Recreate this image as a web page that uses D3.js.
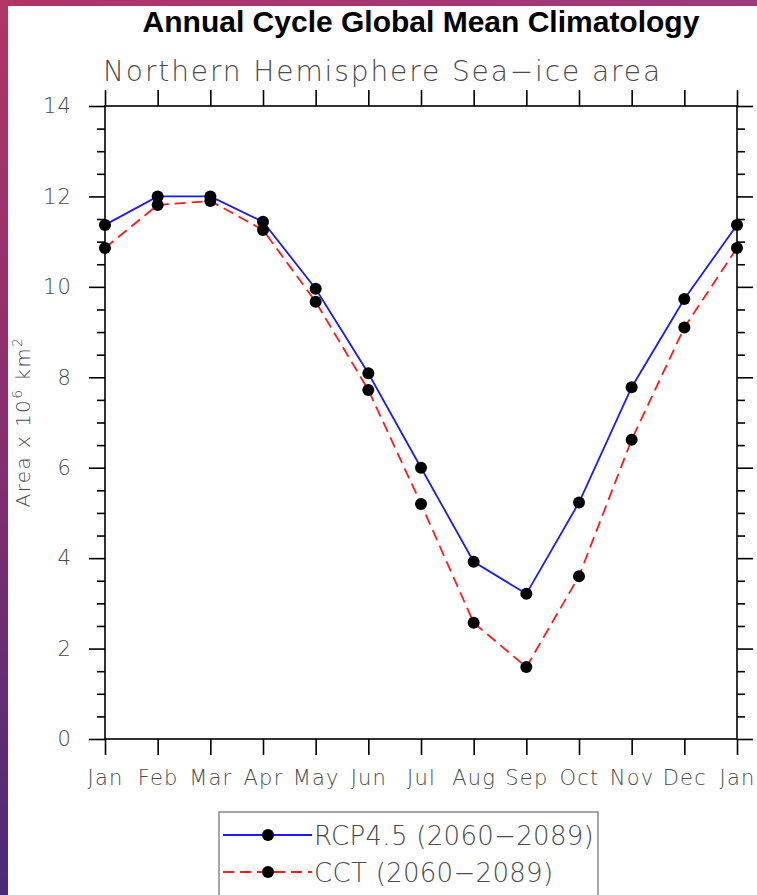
<!DOCTYPE html>
<head>
  <meta charset="utf-8">
  <title>Annual Cycle Global Mean Climatology</title>
  <style>
    body { margin: 0; background: #fff; }
    .lbl { font-family: "DejaVu Sans", sans-serif; font-weight: 200; fill: #4a4a4a; }
  </style>
</head>
<body>
  <script src="https://cdn.jsdelivr.net/npm/d3@7"></script>
  <script>
    // data
    var months = ["Jan", "Feb", "Mar", "Apr", "May", "Jun", "Jul", "Aug", "Sep", "Oct", "Nov", "Dec", "Jan"];
    var rcp45 = [11.37, 12.0, 12.0, 11.44, 9.96, 8.09, 6.0, 3.92, 3.21, 5.23, 7.78, 9.73, 11.37];
    var cct = [10.86, 11.81, 11.9, 11.26, 9.67, 7.72, 5.2, 2.57, 1.59, 3.6, 6.62, 9.1, 10.86];
    var yTicks = [0, 2, 4, 6, 8, 10, 12, 14];
    var yMinor = d3.range(0, 14.01, 0.5).filter(function(v) { return v % 2 != 0; });
    var seriesNames = ["RCP4.5 (2060\u22122089)", "CCT (2060\u22122089)"];

    var w = 757, h = 895;
    var pLeft = 105, pRight = 737, pTop = 106, pBottom = 739;

    var svg = d3.select("body").append("svg").attr("width", w).attr("height", h);

    // slide background strips
    var defs = svg.append("defs");
    var g1 = defs.append("linearGradient").attr("id", "side").attr("x1", 0).attr("y1", 0).attr("x2", 0).attr("y2", 1);
    g1.append("stop").attr("offset", "0%").attr("stop-color", "#b33565");
    g1.append("stop").attr("offset", "45%").attr("stop-color", "#8a2f6e");
    g1.append("stop").attr("offset", "100%").attr("stop-color", "#4b2a78");
    var g2 = defs.append("linearGradient").attr("id", "topstrip").attr("x1", 0).attr("y1", 0).attr("x2", 1).attr("y2", 0);
    g2.append("stop").attr("offset", "0%").attr("stop-color", "#b13466");
    g2.append("stop").attr("offset", "100%").attr("stop-color", "#9b3a7c");
    svg.append("rect").attr("x", 0).attr("y", 0).attr("width", w).attr("height", 6).attr("fill", "url(#topstrip)");
    svg.append("rect").attr("x", 0).attr("y", 0).attr("width", 8).attr("height", h).attr("fill", "url(#side)");

    var x = d3.scaleLinear().domain([0, 12]).range([pLeft, pRight]);
    var y = d3.scaleLinear().domain([0, 14]).range([pBottom, pTop]);

    // major and minor ticks on all four sides, pointing outward
    svg.append("g").attr("transform", "translate(0," + pBottom + ")")
      .call(d3.axisBottom(x).tickValues(d3.range(13)).tickSize(16).tickSizeOuter(0).tickPadding(15)
        .tickFormat(function(d) { return months[d]; }));
    svg.append("g").attr("transform", "translate(0," + pTop + ")")
      .call(d3.axisTop(x).tickValues(d3.range(13)).tickSize(16).tickSizeOuter(0).tickFormat(""));
    svg.append("g").attr("transform", "translate(" + pLeft + ",0)")
      .call(d3.axisLeft(y).tickValues(yTicks).tickSize(16).tickSizeOuter(0).tickPadding(17));
    svg.append("g").attr("transform", "translate(" + pLeft + ",0)")
      .call(d3.axisLeft(y).tickValues(yMinor).tickSize(8).tickSizeOuter(0).tickFormat(""));
    svg.append("g").attr("transform", "translate(" + pRight + ",0)")
      .call(d3.axisRight(y).tickValues(yTicks).tickSize(16).tickSizeOuter(0).tickFormat(""));
    svg.append("g").attr("transform", "translate(" + pRight + ",0)")
      .call(d3.axisRight(y).tickValues(yMinor).tickSize(8).tickSizeOuter(0).tickFormat(""));

    svg.selectAll(".domain").remove();
    svg.selectAll(".tick line").attr("stroke", "#000").attr("stroke-width", 1.6);
    svg.selectAll(".tick text").attr("class", "lbl").attr("font-size", 21).attr("letter-spacing", 1.2);

    // frame
    svg.append("rect").attr("x", pLeft).attr("y", pTop).attr("width", pRight - pLeft).attr("height", pBottom - pTop)
      .attr("fill", "none").attr("stroke", "#000").attr("stroke-width", 1.6);

    var line = d3.line().x(function(d, i) { return x(i); }).y(function(d) { return y(d); });

    svg.append("path").datum(cct).attr("d", line).attr("fill", "none")
      .attr("stroke", "#ff1a1a").attr("stroke-width", 1.8).attr("stroke-dasharray", "11,6");
    svg.append("path").datum(rcp45).attr("d", line).attr("fill", "none")
      .attr("stroke", "#1a1aff").attr("stroke-width", 1.8);

    [rcp45, cct].forEach(function(s) {
      svg.append("g").selectAll("circle").data(s).enter().append("circle")
        .attr("cx", function(d, i) { return x(i); })
        .attr("cy", function(d) { return y(d); })
        .attr("r", 6).attr("fill", "#000");
    });

    // titles
    svg.append("text").attr("x", 421).attr("y", 32).attr("text-anchor", "middle")
      .attr("font-family", "Liberation Sans, Arial, sans-serif").attr("font-weight", "bold").attr("font-size", 30)
      .attr("fill", "#000").text("Annual Cycle Global Mean Climatology");
    svg.append("text").attr("class", "lbl").attr("x", 103).attr("y", 81).attr("font-size", 28)
      .attr("letter-spacing", 1.9).text("Northern Hemisphere Sea\u2212ice area");

    // y axis title
    var yt = svg.append("text").attr("class", "lbl").attr("font-size", 20).attr("text-anchor", "middle")
      .attr("letter-spacing", 1.4).attr("transform", "translate(30,422) rotate(-90)");
    yt.append("tspan").text("Area x 10");
    yt.append("tspan").attr("dy", -8).attr("font-size", 14).text("6");
    yt.append("tspan").attr("dy", 8).text(" km");
    yt.append("tspan").attr("dy", -8).attr("font-size", 14).text("2");

    // legend
    var lg = svg.append("g");
    lg.append("rect").attr("x", 219).attr("y", 812).attr("width", 379).attr("height", 100)
      .attr("fill", "#fff").attr("stroke", "#888").attr("stroke-width", 1.5);
    var rows = [
      { name: seriesNames[0], color: "#1a1aff", dash: null, yy: 835 },
      { name: seriesNames[1], color: "#ff1a1a", dash: "11,6", yy: 872 }
    ];
    rows.forEach(function(r) {
      lg.append("line").attr("x1", 223).attr("x2", 312).attr("y1", r.yy).attr("y2", r.yy)
        .attr("stroke", r.color).attr("stroke-width", 1.8).attr("stroke-dasharray", r.dash);
      lg.append("circle").attr("cx", 268).attr("cy", r.yy).attr("r", 6).attr("fill", "#000");
      lg.append("text").attr("class", "lbl").attr("x", 314).attr("y", r.yy + 10).attr("font-size", 26)
        .attr("letter-spacing", 0.3).text(r.name);
    });
  </script>
</body>
